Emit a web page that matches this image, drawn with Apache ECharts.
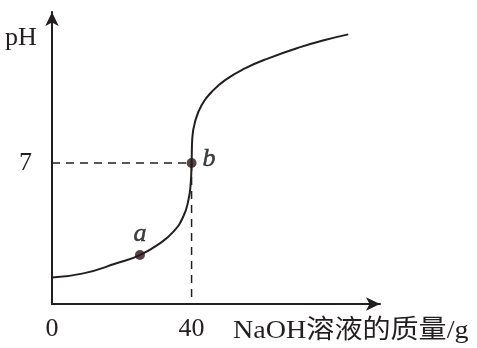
<!DOCTYPE html>
<html><head><meta charset="utf-8">
<script src="https://cdn.jsdelivr.net/npm/echarts@6/dist/echarts.min.js"></script>
<style>html,body{margin:0;padding:0;background:#fff}#c{width:477px;height:348px}</style>
</head><body><div id="c"></div>
<script>
// curve: NaOH mass (g) vs pH
const massValues = [0, 9, 18.5, 25.2, 30.9, 34.8, 37.6, 39.1, 39.75, 40, 40.2, 41.0, 42.9, 45.8, 49.6, 55.3, 62.0, 71.6, 78.2, 84.9];
const phValues   = [1.31, 1.52, 2.02, 2.43, 3.01, 3.59, 4.33, 5.16, 5.99, 7.0, 8.23, 9.05, 9.88, 10.54, 11.12, 11.70, 12.20, 12.78, 13.11, 13.39];
const pointNames = ['a', 'b'];
const pointMass  = [25.2, 40];
const pointPh    = [2.43, 7];
const xTicks = [0, 40];
const yTicks = [7];
const xName = 'NaOH溶液的质量/g';
const yName = 'pH';

const serif = "'Liberation Serif','Times New Roman',serif";
const ink = '#231f20';
const chart = echarts.init(document.getElementById('c'));
const curve = massValues.map((m, i) => [m, phValues[i]]);
const b = [pointMass[1], pointPh[1]];
const pts = [
  {name: pointNames[0], value: [pointMass[0], pointPh[0]], label: {position: 'top', distance: 3}},
  {name: pointNames[1], value: b, label: {position: 'right', distance: 6, offset: [0, -4]}}
];

chart.setOption({
  animation: false,
  grid: {left: 52, top: 12, width: 328, height: 292},
  xAxis: {
    type: 'value', min: 0, max: 94,
    splitLine: {show: false},
    axisLine: {lineStyle: {color: ink, width: 2}, symbol: ['none', 'arrow'], symbolSize: [10, 14]},
    axisTick: {show: false},
    axisLabel: {customValues: xTicks, color: ink, fontFamily: serif, fontSize: 26, margin: 12}
  },
  yAxis: {
    type: 'value', min: 0, max: 14.5,
    splitLine: {show: false},
    axisLine: {lineStyle: {color: ink, width: 2}, symbol: ['none', 'arrow'], symbolSize: [10, 14]},
    axisTick: {show: false},
    axisLabel: {customValues: yTicks, color: ink, fontFamily: serif, fontSize: 26, margin: 20}
  },
  graphic: [
    {type: 'text', x: 233, y: 318, scaleX: 1.08, style: {text: xName, fill: ink, font: "26px 'Liberation Serif','Noto Sans CJK SC',serif"}},
    {type: 'text', x: 5, y: 25, style: {text: yName, fill: ink, font: "26px 'Liberation Serif',serif"}}
  ],
  series: [
    {type: 'line', data: curve, smooth: 0.5, showSymbol: false,
     lineStyle: {color: ink, width: 2}, z: 3},
    {type: 'line', data: [[0, b[1]], b], showSymbol: false,
     lineStyle: {color: ink, width: 1.5, type: [8, 6]}},
    {type: 'line', data: [b, [b[0], 0]], showSymbol: false,
     lineStyle: {color: ink, width: 1.5, type: [8, 6]}},
    {type: 'scatter', data: pts, symbolSize: 10, itemStyle: {color: '#2b1517'}, z: 5,
     label: {show: true, formatter: p => p.name, fontFamily: serif, fontStyle: 'italic', fontSize: 26,
       color: '#111', textBorderColor: '#111', textBorderWidth: 0.5}}
  ]
});
</script></body></html>
